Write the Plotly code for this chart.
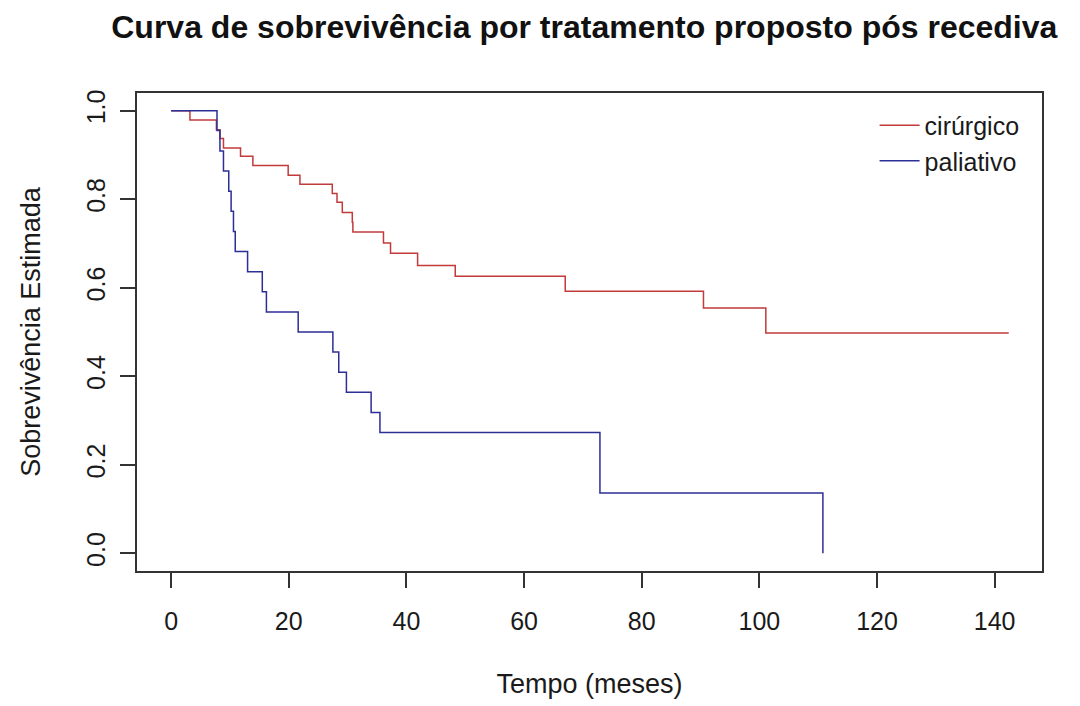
import plotly.graph_objects as go

# Kaplan-Meier estimates (time in months, estimated survival)
cirurgico_t = [0, 3.2, 7.7, 8.3, 8.9, 11.8, 13.9, 19.9, 21.9, 27.4, 28.2, 29.1,
               30.8, 30.9, 36.1, 37.3, 41.9, 48.3, 67.0, 90.5, 101.1, 142.4]
cirurgico_s = [1.0, 0.979, 0.957, 0.937, 0.916, 0.897, 0.876, 0.854, 0.834, 0.813,
               0.793, 0.770, 0.748, 0.726, 0.701, 0.678, 0.650, 0.626, 0.592, 0.554,
               0.498, 0.498]

paliativo_t = [0, 7.8, 8.3, 8.9, 9.8, 10.2, 10.6, 10.9, 13.0, 15.5, 16.2, 21.6,
               27.5, 28.5, 29.8, 34.0, 35.5, 72.9, 110.8]
paliativo_s = [1.0, 0.955, 0.909, 0.864, 0.818, 0.773, 0.727, 0.682, 0.636, 0.591,
               0.545, 0.500, 0.455, 0.409, 0.364, 0.318, 0.273, 0.136, 0.0]

x_ticks = [0, 20, 40, 60, 80, 100, 120, 140]
y_ticks = [0.0, 0.2, 0.4, 0.6, 0.8, 1.0]
y_tick_text = ["0.0", "0.2", "0.4", "0.6", "0.8", "1.0"]

FONT = "Liberation Sans, Arial, sans-serif"
AXIS_COLOR = "#333333"

fig = go.Figure()
fig.add_trace(go.Scatter(
    x=cirurgico_t, y=cirurgico_s, mode="lines", name="cirúrgico",
    line=dict(color="#c23a3a", width=1.5, shape="hv"),
))
fig.add_trace(go.Scatter(
    x=paliativo_t, y=paliativo_s, mode="lines", name="paliativo",
    line=dict(color="#2c2f95", width=1.5, shape="hv"),
))

fig.update_layout(
    width=1080, height=706,
    margin=dict(l=137, r=38, t=93, b=133),
    paper_bgcolor="white", plot_bgcolor="white",
    font=dict(family=FONT, size=25, color="#1a1a1a"),
    title=dict(
        text="<b>Curva de sobrevivência por tratamento proposto pós recediva</b>",
        font=dict(family=FONT, size=32, color="#111111"),
        x=0.541, xanchor="center", xref="container",
        y=0.962, yanchor="middle", yref="container",
    ),
    showlegend=True,
    legend=dict(
        x=0.815, xanchor="left", y=0.98, yanchor="top",
        bgcolor="rgba(0,0,0,0)", borderwidth=0,
        font=dict(family=FONT, size=25, color="#1a1a1a"),
        tracegroupgap=0, itemwidth=40,
    ),
)

fig.update_xaxes(
    range=[-5.8, 148.05], tickvals=x_ticks,
    showgrid=False, zeroline=False,
    showline=True, mirror=True, linecolor=AXIS_COLOR, linewidth=1.5,
    ticks="outside", ticklen=15, tickwidth=1.5, tickcolor=AXIS_COLOR,
    ticklabelstandoff=12,
    title=dict(text="Tempo (meses)", standoff=40,
               font=dict(family=FONT, size=27, color="#1a1a1a")),
)
fig.update_yaxes(
    range=[-0.04, 1.04], tickvals=y_ticks, ticktext=y_tick_text,
    tickangle=-90,
    showgrid=False, zeroline=False,
    showline=True, mirror=True, linecolor=AXIS_COLOR, linewidth=1.5,
    ticks="outside", ticklen=15, tickwidth=1.5, tickcolor=AXIS_COLOR,
    ticklabelstandoff=5,
    title=dict(text="Sobrevivência Estimada", standoff=34,
               font=dict(family=FONT, size=27, color="#1a1a1a")),
)

fig.write_html("out.html")
